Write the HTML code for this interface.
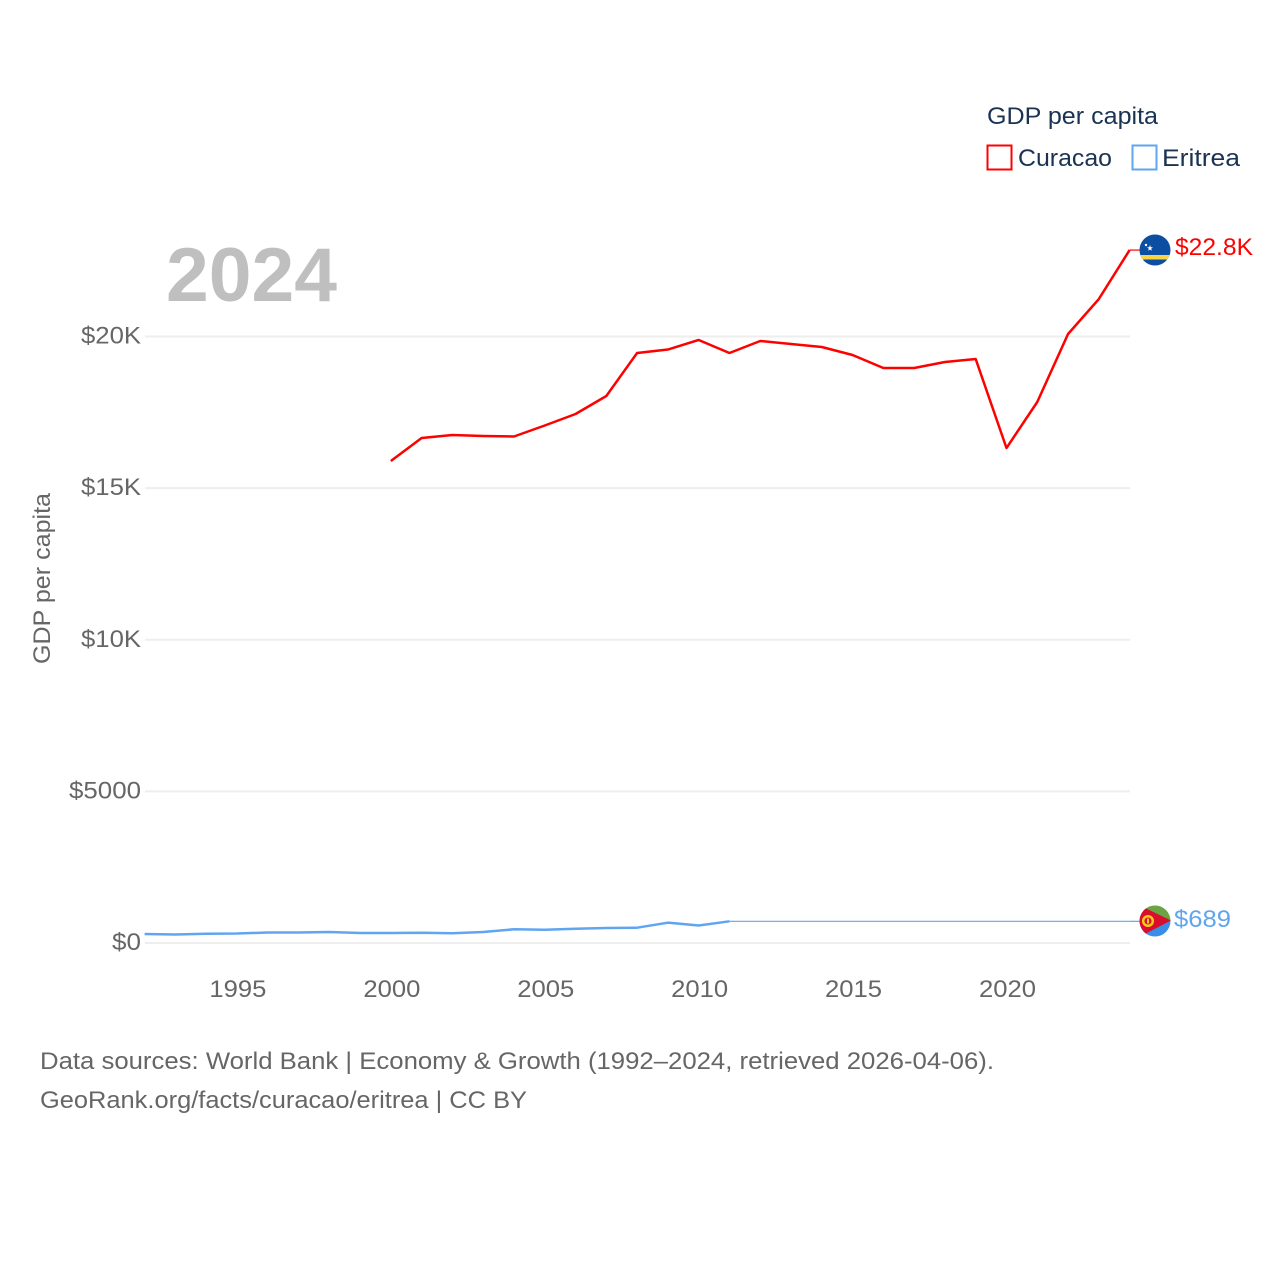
<!DOCTYPE html>
<html lang="en">
<head>
<meta charset="utf-8">
<title>GDP per capita: Curacao vs Eritrea</title>
<style>
html,body{margin:0;padding:0;background:#fff;width:1280px;height:1280px;overflow:hidden}
svg{display:block}
text{font-family:"Liberation Sans",sans-serif}
</style>
</head>
<body>
<svg id="chart" width="1280" height="1280" viewBox="0 0 1280 1280" xmlns="http://www.w3.org/2000/svg">
  <defs>
    <clipPath id="flag-clip-a"><circle cx="1155" cy="250" r="15.5"></circle></clipPath>
    <clipPath id="flag-clip-b"><circle cx="1155" cy="921" r="15.5"></circle></clipPath>
  </defs>
  <g id="grid"></g>
  <g id="yticks"></g>
  <g id="xticks"></g>
  <text x="166" y="301" font-size="76" font-weight="700" fill="#bfbfbf" textLength="171" lengthAdjust="spacingAndGlyphs">2024</text>
  <text transform="translate(50,664) rotate(-90)" font-size="24" fill="#666666" textLength="171" lengthAdjust="spacingAndGlyphs">GDP per capita</text>
  <g id="series"></g>

  <g clip-path="url(#flag-clip-a)">
    <rect x="1139" y="234" width="32" height="32" fill="#0b4ea2"></rect>
    <rect x="1139" y="255" width="32" height="4.5" fill="#f9d342"></rect>
    <polygon points="1150,245 1150.8,247.2 1153,247.2 1151.2,248.6 1151.9,250.8 1150,249.5 1148.1,250.8 1148.8,248.6 1147,247.2 1149.2,247.2" fill="#ffffff"></polygon>
    <circle cx="1146" cy="245" r="1.2" fill="#ffffff"></circle>
  </g>
  <g clip-path="url(#flag-clip-b)">
    <rect x="1139" y="905" width="32" height="16" fill="#6ca344"></rect>
    <rect x="1139" y="921" width="32" height="16" fill="#3b8ee8"></rect>
    <polygon points="1139,905 1171,920.5 1139,937" fill="#d80e2c"></polygon>
    <circle cx="1148" cy="921" r="4.8" fill="none" stroke="#f8c81c" stroke-width="2.5"></circle>
    <rect x="1147" y="918.5" width="2" height="5" fill="#f8c81c"></rect>
  </g>

  <text id="label-a" x="1175" y="255" font-size="24" fill="#ff0000" textLength="78" lengthAdjust="spacingAndGlyphs">$22.8K</text>
  <text id="label-b" x="1174" y="927" font-size="24" fill="#60a5f0" textLength="57" lengthAdjust="spacingAndGlyphs">$689</text>

  <g>
    <text x="987" y="124" font-size="24" fill="#1a3353" textLength="171" lengthAdjust="spacingAndGlyphs">GDP per capita</text>
    <g>
      <rect x="987.5" y="145.5" width="24" height="24" fill="#ffffff" stroke="#ff0000" stroke-width="2"></rect>
      <text x="1018" y="166" font-size="24" fill="#1a3353" textLength="94" lengthAdjust="spacingAndGlyphs">Curacao</text>
    </g>
    <g>
      <rect x="1132.5" y="145.5" width="24" height="24" fill="#ffffff" stroke="#60a5f0" stroke-width="2"></rect>
      <text x="1162" y="166" font-size="24" fill="#1a3353" textLength="78" lengthAdjust="spacingAndGlyphs">Eritrea</text>
    </g>
  </g>

  <g>
    <text x="40" y="1069" font-size="24" fill="#666666" textLength="954" lengthAdjust="spacingAndGlyphs">Data sources: World Bank | Economy &amp; Growth (1992–2024, retrieved 2026-04-06).</text>
    <a><text x="40" y="1108" font-size="24" fill="#666666" textLength="487" lengthAdjust="spacingAndGlyphs">GeoRank.org/facts/curacao/eritrea | CC BY</text></a>
  </g>
</svg>
<script>
const yTickValues = [0, 5000, 10000, 15000, 20000];
const yTickLabels = ["$0", "$5000", "$10K", "$15K", "$20K"];
const xTickValues = [1995, 2000, 2005, 2010, 2015, 2020];
const xTickLabels = ["1995", "2000", "2005", "2010", "2015", "2020"];
const curacaoYears = [2000,2001,2002,2003,2004,2005,2006,2007,2008,2009,2010,2011,2012,2013,2014,2015,2016,2017,2018,2019,2020,2021,2022,2023,2024];
const curacaoValues = [15894,16653,16752,16719,16702,17065,17444,18038,19456,19571,19885,19456,19852,19753,19654,19390,18961,18961,19159,19258,16323,17840,20082,21236,22850];
const eritreaYears = [1992,1993,1994,1995,1996,1997,1998,1999,2000,2001,2002,2003,2004,2005,2006,2007,2008,2009,2010,2011];
const eritreaValues = [297,280,307,313,346,346,363,330,330,340,320,363,452,439,472,495,505,670,577,715];
const eritreaLatestYear = [2024];
const eritreaLatestValue = [715];

const NS = "http://www.w3.org/2000/svg";
function xScale(year) { return 144.6 + (year - 1992) * (1129.6 - 144.6) / 32; }
function yScale(value) { return 943 - value * (943 - 336.5) / 20000; }
function make(parent, tag, attrs) {
  const el = document.createElementNS(NS, tag);
  for (const k in attrs) el.setAttribute(k, attrs[k]);
  parent.appendChild(el);
  return el;
}
function pathOf(xs, ys) {
  return xs.map(function (x, i) {
    return (i ? "L" : "M") + xScale(x).toFixed(2) + " " + yScale(ys[i]).toFixed(2);
  }).join(" ");
}

const gridG = document.getElementById("grid");
const yG = document.getElementById("yticks");
const xG = document.getElementById("xticks");
const seriesG = document.getElementById("series");

yTickValues.forEach(function (v, i) {
  const line = make(gridG, "line", { x1: 145, x2: 1130, y1: yScale(v), y2: yScale(v), stroke: "#eeeeee", "stroke-width": 2 });
  
  
  const t = make(yG, "text", { x: 141, y: yScale(v) + 7, "text-anchor": "end", "font-size": 24, fill: "#666666" });
  
  
  t.textContent = yTickLabels[i];
  t.setAttribute("textLength", t.textContent.length === 2 ? 29 : t.textContent.length === 4 ? 60 : 72);
  t.setAttribute("lengthAdjust", "spacingAndGlyphs");
});

xTickValues.forEach(function (v, i) {
  const t = make(xG, "text", { x: xScale(v) + 1, y: 997, "text-anchor": "middle", "font-size": 24, fill: "#666666", textLength: 57, lengthAdjust: "spacingAndGlyphs" });
  
  
  t.textContent = xTickLabels[i];
});

const curacaoLine = make(seriesG, "path", { d: pathOf(curacaoYears, curacaoValues), fill: "none", stroke: "#ff0000", "stroke-width": 2.5, "stroke-linejoin": "round" });



const curacaoLast = curacaoValues[curacaoValues.length - 1];
const curacaoStub = make(seriesG, "line", { x1: xScale(2024), x2: 1140, y1: yScale(curacaoLast), y2: yScale(curacaoLast), stroke: "#ff0000", "stroke-width": 1.2 });



const eritreaGap = make(seriesG, "line", {
  x1: xScale(eritreaYears[eritreaYears.length - 1]),
  y1: yScale(eritreaValues[eritreaValues.length - 1]),
  x2: xScale(eritreaLatestYear[0]),
  y2: yScale(eritreaLatestValue[0]),
  stroke: "#60a5f0", "stroke-width": 1.2
});



const eritreaStub = make(seriesG, "line", { x1: xScale(2024), x2: 1140, y1: yScale(eritreaLatestValue[0]), y2: yScale(eritreaLatestValue[0]), stroke: "#60a5f0", "stroke-width": 1.2 });



const eritreaLine = make(seriesG, "path", { d: pathOf(eritreaYears, eritreaValues), fill: "none", stroke: "#60a5f0", "stroke-width": 2.5, "stroke-linejoin": "round" });


</script>
</body>
</html>
